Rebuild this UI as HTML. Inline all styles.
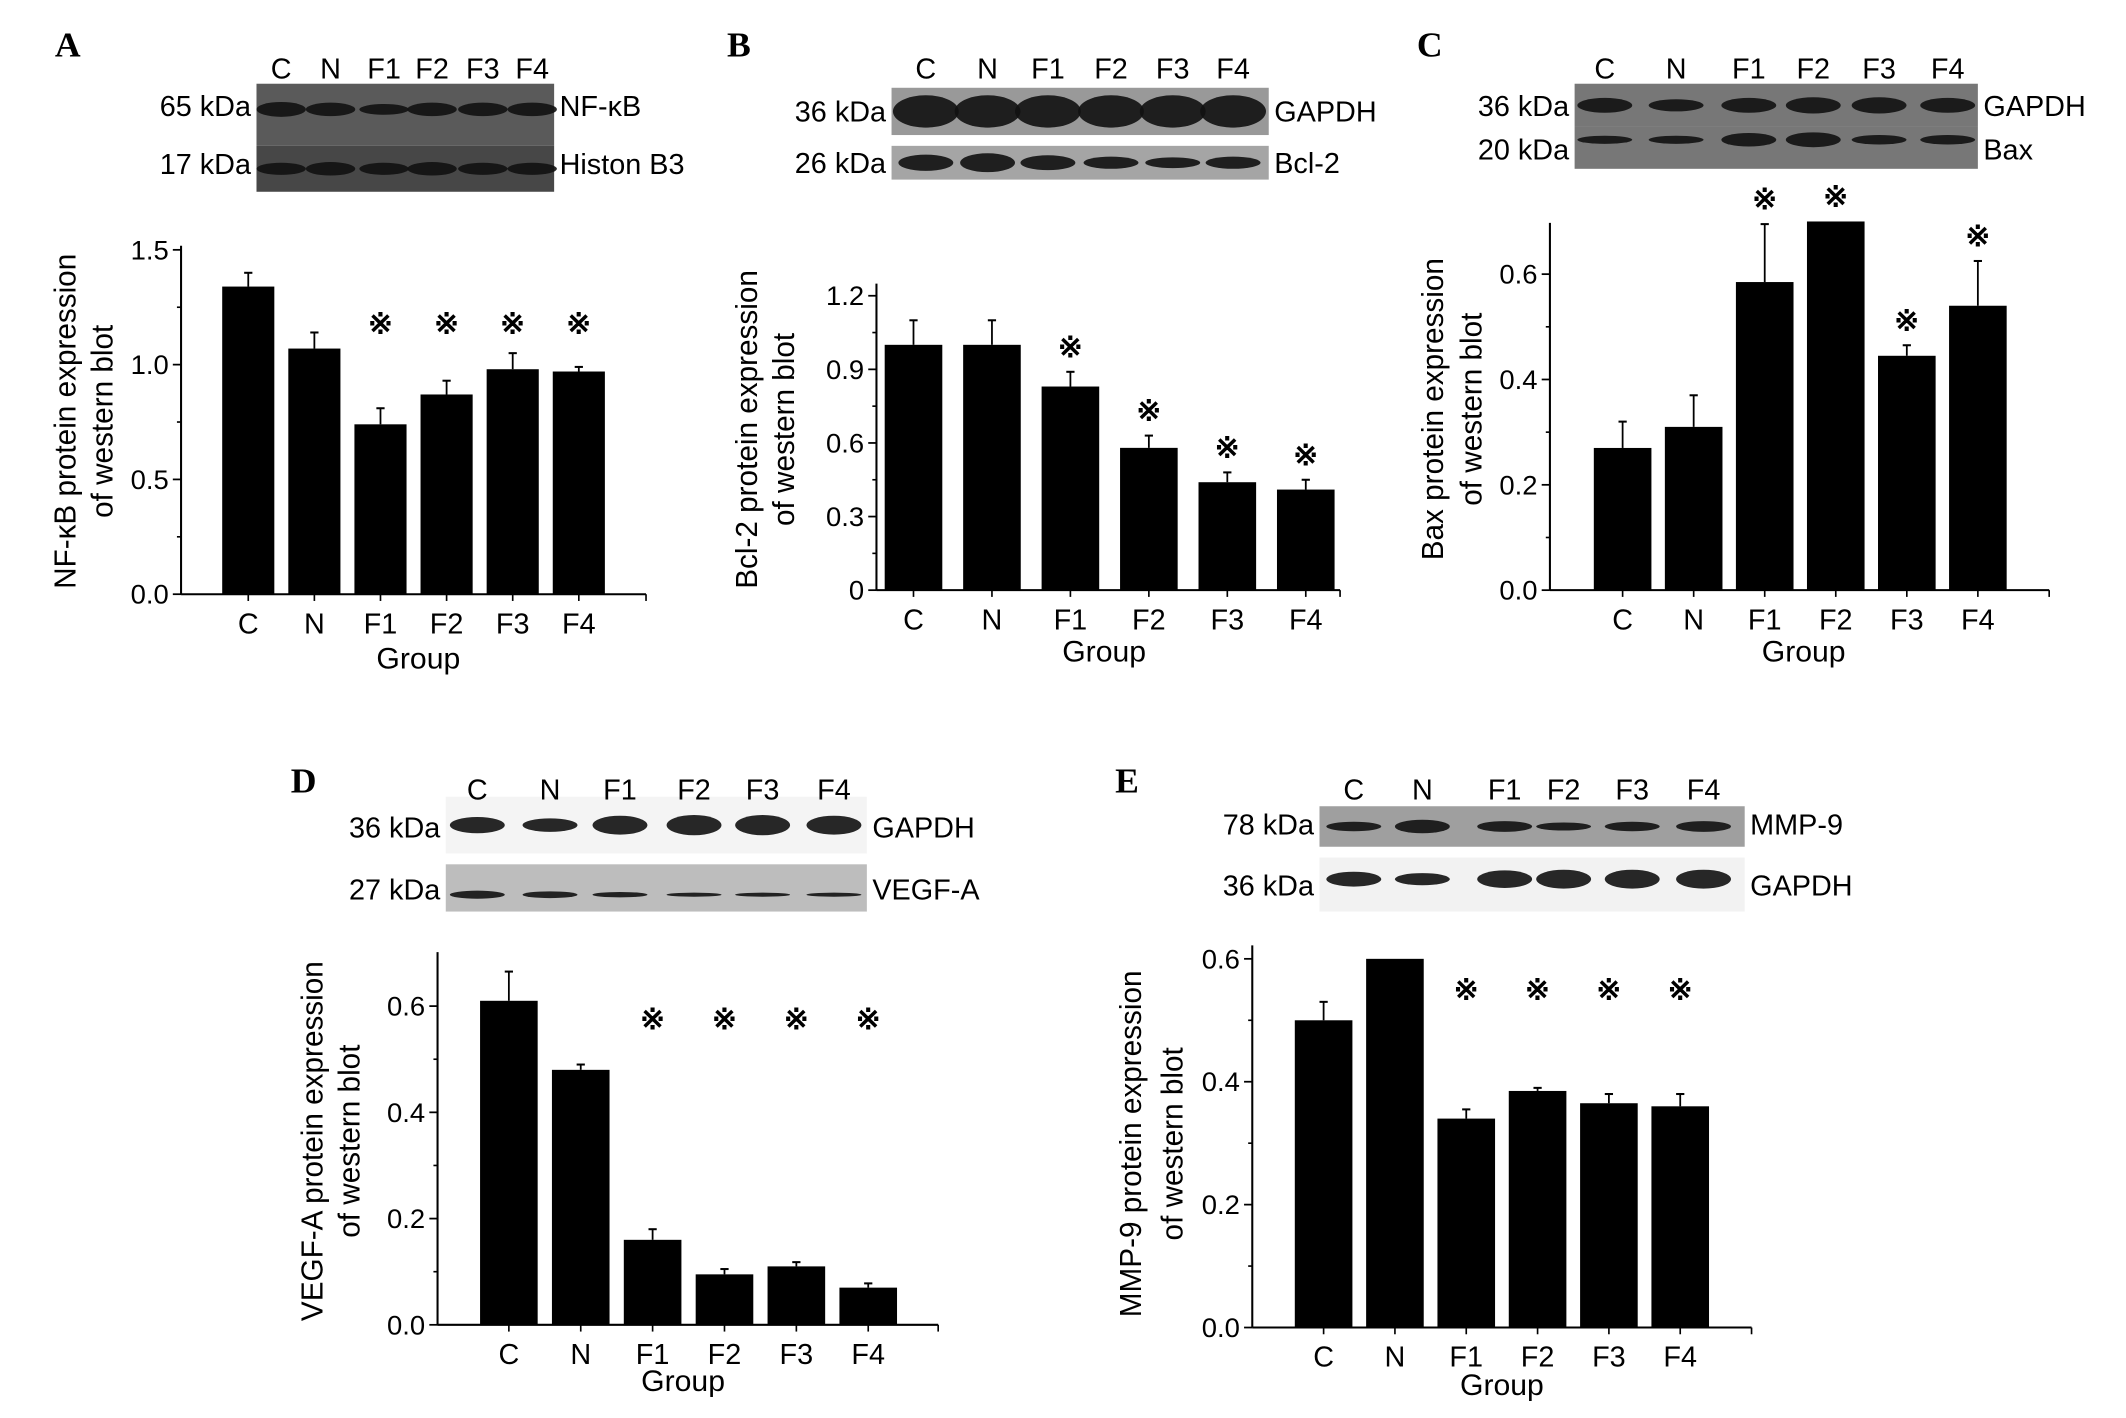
<!DOCTYPE html>
<html><head><meta charset="utf-8">
<style>
html,body{margin:0;padding:0;background:#fff;}
svg{display:block;}
text{font-family:"Liberation Sans",Arial,sans-serif;fill:#000;}
.let{font-family:"Liberation Serif",serif;font-weight:bold;font-size:26px;}
</style></head>
<body>
<svg id="fig" xmlns="http://www.w3.org/2000/svg" width="2126" height="1418" viewBox="0 0 1550 1050" preserveAspectRatio="none"></svg>
<script>
const groups = ["C","N","F1","F2","F3","F4"];
const valsA = [1.34,1.07,0.74,0.87,0.98,0.97];
const errA  = [1.40,1.14,0.81,0.93,1.05,0.99];
const starsA = [0,0,1,1,1,1];
const ticksA = [0,0.5,1.0,1.5];
const tickLabA = ["0.0","0.5","1.0","1.5"];
const valsB = [1.0,1.0,0.83,0.58,0.44,0.41];
const errB  = [1.10,1.10,0.89,0.63,0.48,0.45];
const starsB = [0,0,1,1,1,1];
const ticksB = [0,0.3,0.6,0.9,1.2];
const tickLabB = ["0","0.3","0.6","0.9","1.2"];
const valsC = [0.27,0.31,0.585,0.70,0.445,0.54];
const errC  = [0.32,0.37,0.695,0.70,0.465,0.625];
const starsC = [0,0,1,1,1,1];
const ticksC = [0,0.2,0.4,0.6];
const tickLabC = ["0.0","0.2","0.4","0.6"];
const valsD = [0.61,0.48,0.16,0.095,0.11,0.07];
const errD  = [0.665,0.49,0.18,0.105,0.118,0.078];
const starsD = [0,0,1,1,1,1];
const ticksD = [0,0.2,0.4,0.6];
const tickLabD = ["0.0","0.2","0.4","0.6"];
const valsE = [0.50,0.60,0.34,0.385,0.365,0.36];
const errE  = [0.53,0.60,0.355,0.39,0.38,0.38];
const starsE = [0,0,1,1,1,1];
const ticksE = [0,0.2,0.4,0.6];
const tickLabE = ["0.0","0.2","0.4","0.6"];

const svg = document.getElementById('fig');
const NS = "http://www.w3.org/2000/svg";
function mk(tag, attrs, parent){
  const e = document.createElementNS(NS, tag);
  for (const k in attrs) e.setAttribute(k, attrs[k]);
  (parent||svg).appendChild(e);
  return e;
}
function txt(x,y,s,size,anchor,parent,extra){
  const t = mk('text',Object.assign({x:x,y:y,'font-size':size,'text-anchor':anchor||'middle'},extra||{}),parent);
  t.textContent = s;
  return t;
}

function panel(cfg){
  const g = mk('g',{});
  
  
  const lt = txt(cfg.letter[0],cfg.letter[1],cfg.id.toUpperCase(),26,'start',g,{class:'let'});
  
  
  const bg = mk('g',{},g);
  
  
  cfg.strips.forEach((s,si)=>{
    mk('rect',{x:cfg.blotX0,y:s.y0,width:cfg.blotX1-cfg.blotX0,height:s.y1-s.y0,fill:s.fill||'#6a6a6a'},bg);
    cfg.laneX.forEach((lx,i)=>{
      const bw = (s.bw||[])[i]!==undefined ? s.bw[i] : 1;
      mk('ellipse',{cx:lx,cy:(s.y0+s.y1)/2+(s.dy||0),rx:s.rx||20,ry:5*bw+1,fill:'#111',opacity:0.9},bg);
    });
    txt(cfg.blotX0-4,s.ly,s.kda,21,'end',bg);
    txt(cfg.blotX1+4,s.ly,s.name,21,'start',bg);
  });
  groups.forEach((gname,i)=>{
    const t = txt(cfg.laneX[i],cfg.laneY,gname,21,'middle',bg);
    
    
  });
  const ax = cfg.ax;
  const y = v => ax.y0 - (v/ax.vmax)*(ax.y0-ax.ymax);
  const cg = mk('g',{},g);
  
  
  const xs = i => ax.c0 + i*ax.step;
  cfg.vals.forEach((v,i)=>{
    const cx = xs(i);
    const e = cfg.err[i];
    if (e>v) mk('line',{x1:cx,x2:cx,y1:y(v),y2:y(e),stroke:'#000','stroke-width':1.3},cg);
    if (e>v) mk('line',{x1:cx-3,x2:cx+3,y1:y(e),y2:y(e),stroke:'#000','stroke-width':1.5},cg);
    const r = mk('rect',{x:cx-ax.bw/2,y:y(v),width:ax.bw,height:ax.y0-y(v),fill:'#000'},cg);
    
    
    if (cfg.stars[i]) {
      const sy = cfg.starY!==undefined ? cfg.starY : y(e)-18;
      const st = txt(cx,sy+7,'※',22,'middle',cg,{'font-weight':'bold'});
      
      
    }
    const xl = txt(cx,ax.y0+29,groups[i],21,'middle',cg);
    
    
    mk('line',{x1:cx,x2:cx,y1:ax.y0,y2:ax.y0+5,stroke:'#000','stroke-width':1.2},cg);
  });
  const yl = mk('line',{x1:ax.x,x2:ax.x,y1:ax.y0,y2:ax.ytop,stroke:'#000','stroke-width':1.5},cg);
  
  
  const xl = mk('line',{x1:ax.x,x2:ax.xend,y1:ax.y0,y2:ax.y0,stroke:'#000','stroke-width':1.5},cg);
  
  
  mk('line',{x1:ax.xend,x2:ax.xend,y1:ax.y0,y2:ax.y0+5,stroke:'#000','stroke-width':1.2},cg);
  cfg.ticks.forEach((t,i)=>{
    const ty = y(t);
    mk('line',{x1:ax.x-6,x2:ax.x,y1:ty,y2:ty,stroke:'#000','stroke-width':1.3},cg);
    if (i<cfg.ticks.length-1) mk('line',{x1:ax.x-3,x2:ax.x,y1:(ty+y(cfg.ticks[i+1]))/2,y2:(ty+y(cfg.ticks[i+1]))/2,stroke:'#000','stroke-width':1.2},cg);
    const tl = txt(ax.x-9,ty+7,cfg.tickLab[i],20,'end',cg);
    
    
  });
  const gt = txt(cfg.group[0],cfg.group[1],'Group',22,'middle',cg);
  
  
  const yt = mk('text',{transform:`translate(${cfg.ytitle[0]},${cfg.ytitle[2]}) rotate(-90)`,'font-size':22,'text-anchor':'middle'},cg);
  
  
  const t1 = mk('tspan',{x:0,y:0},yt); t1.textContent = cfg.ytext;
  const t2 = mk('tspan',{x:0,y:cfg.ytitle[1]-cfg.ytitle[0]},yt); t2.textContent = 'of western blot';
}

panel({id:'a',letter:[40,42],blotX0:187,blotX1:404,laneX:[205,241,280,315,352,388],laneY:58,
  strips:[{y0:62,y1:108,ly:86,kda:'65 kDa',name:'NF-κB',bw:[0.9,0.8,0.6,0.8,0.8,0.8],dy:-4,rx:18,fill:'#5a5a5a'},
          {y0:108,y1:142,ly:129,kda:'17 kDa',name:'Histon B3',bw:[0.7,0.8,0.7,0.8,0.7,0.7],rx:18,fill:'#474747'}],
  ax:{x:132,y0:440,ymax:185,vmax:1.5,ytop:182,xend:471,c0:181,step:48.2,bw:38},
  vals:valsA,err:errA,stars:starsA,ticks:ticksA,tickLab:tickLabA,starY:240,
  group:[305,495],ytitle:[55,82,312],ytext:'NF-κB protein expression'});

panel({id:'b',letter:[530,42],blotX0:650,blotX1:925,laneX:[675,720,764,810,855,899],laneY:58,
  strips:[{y0:65,y1:100,ly:90,kda:'36 kDa',name:'GAPDH',bw:[2.2,2.2,2.2,2.2,2.2,2.2],rx:24,fill:'#999'},
          {y0:108,y1:133,ly:128,kda:'26 kDa',name:'Bcl-2',bw:[1,1.2,0.9,0.7,0.6,0.7],fill:'#a5a5a5'}],
  ax:{x:639,y0:437,ymax:219,vmax:1.2,ytop:210,xend:977,c0:666,step:57.2,bw:42},
  vals:valsB,err:errB,stars:starsB,ticks:ticksB,tickLab:tickLabB,
  group:[805,490],ytitle:[552,579,318],ytext:'Bcl-2 protein expression'});

panel({id:'c',letter:[1033,42],blotX0:1148,blotX1:1442,laneX:[1170,1222,1275,1322,1370,1420],laneY:58,
  strips:[{y0:62,y1:94,ly:86,kda:'36 kDa',name:'GAPDH',bw:[0.9,0.7,0.9,1,1,0.9],fill:'#777'},
          {y0:94,y1:125,ly:118,kda:'20 kDa',name:'Bax',bw:[0.4,0.4,0.8,0.9,0.5,0.5],dy:-6,fill:'#777'}],
  ax:{x:1130,y0:437,ymax:203,vmax:0.6,ytop:165,xend:1494,c0:1183,step:51.8,bw:42},
  vals:valsC,err:errC,stars:starsC,ticks:ticksC,tickLab:tickLabC,
  group:[1315,490],ytitle:[1052,1080,303],ytext:'Bax protein expression'});

panel({id:'d',letter:[212,587],blotX0:325,blotX1:632,laneX:[348,401,452,506,556,608],laneY:592,
  strips:[{y0:590,y1:632,ly:620,kda:'36 kDa',name:'GAPDH',bw:[1,0.8,1.2,1.3,1.3,1.2],fill:'#f4f4f4'},
          {y0:640,y1:675,ly:666,kda:'27 kDa',name:'VEGF-A',bw:[0.4,0.3,0.2,0.1,0.1,0.1],dy:5,fill:'#bdbdbd'}],
  ax:{x:319,y0:981,ymax:745,vmax:0.6,ytop:705,xend:684,c0:371,step:52.4,bw:42},
  vals:valsD,err:errD,stars:starsD,ticks:ticksD,tickLab:tickLabD,starY:755,
  group:[498,1030],ytitle:[235,262,845],ytext:'VEGF-A protein expression'});

panel({id:'e',letter:[813,587],blotX0:962,blotX1:1272,laneX:[987,1037,1097,1140,1190,1242],laneY:592,
  strips:[{y0:597,y1:627,ly:618,kda:'78 kDa',name:'MMP-9',bw:[0.5,0.8,0.6,0.4,0.5,0.6],fill:'#9f9f9f'},
          {y0:635,y1:675,ly:663,kda:'36 kDa',name:'GAPDH',bw:[0.9,0.7,1.1,1.2,1.2,1.2],dy:-4,fill:'#f2f2f2'}],
  ax:{x:913,y0:983,ymax:710,vmax:0.6,ytop:700,xend:1277,c0:965,step:52,bw:42},
  vals:valsE,err:errE,stars:starsE,ticks:ticksE,tickLab:tickLabE,starY:733,
  group:[1095,1033],ytitle:[832,862,847],ytext:'MMP-9 protein expression'});
</script>
</body></html>
